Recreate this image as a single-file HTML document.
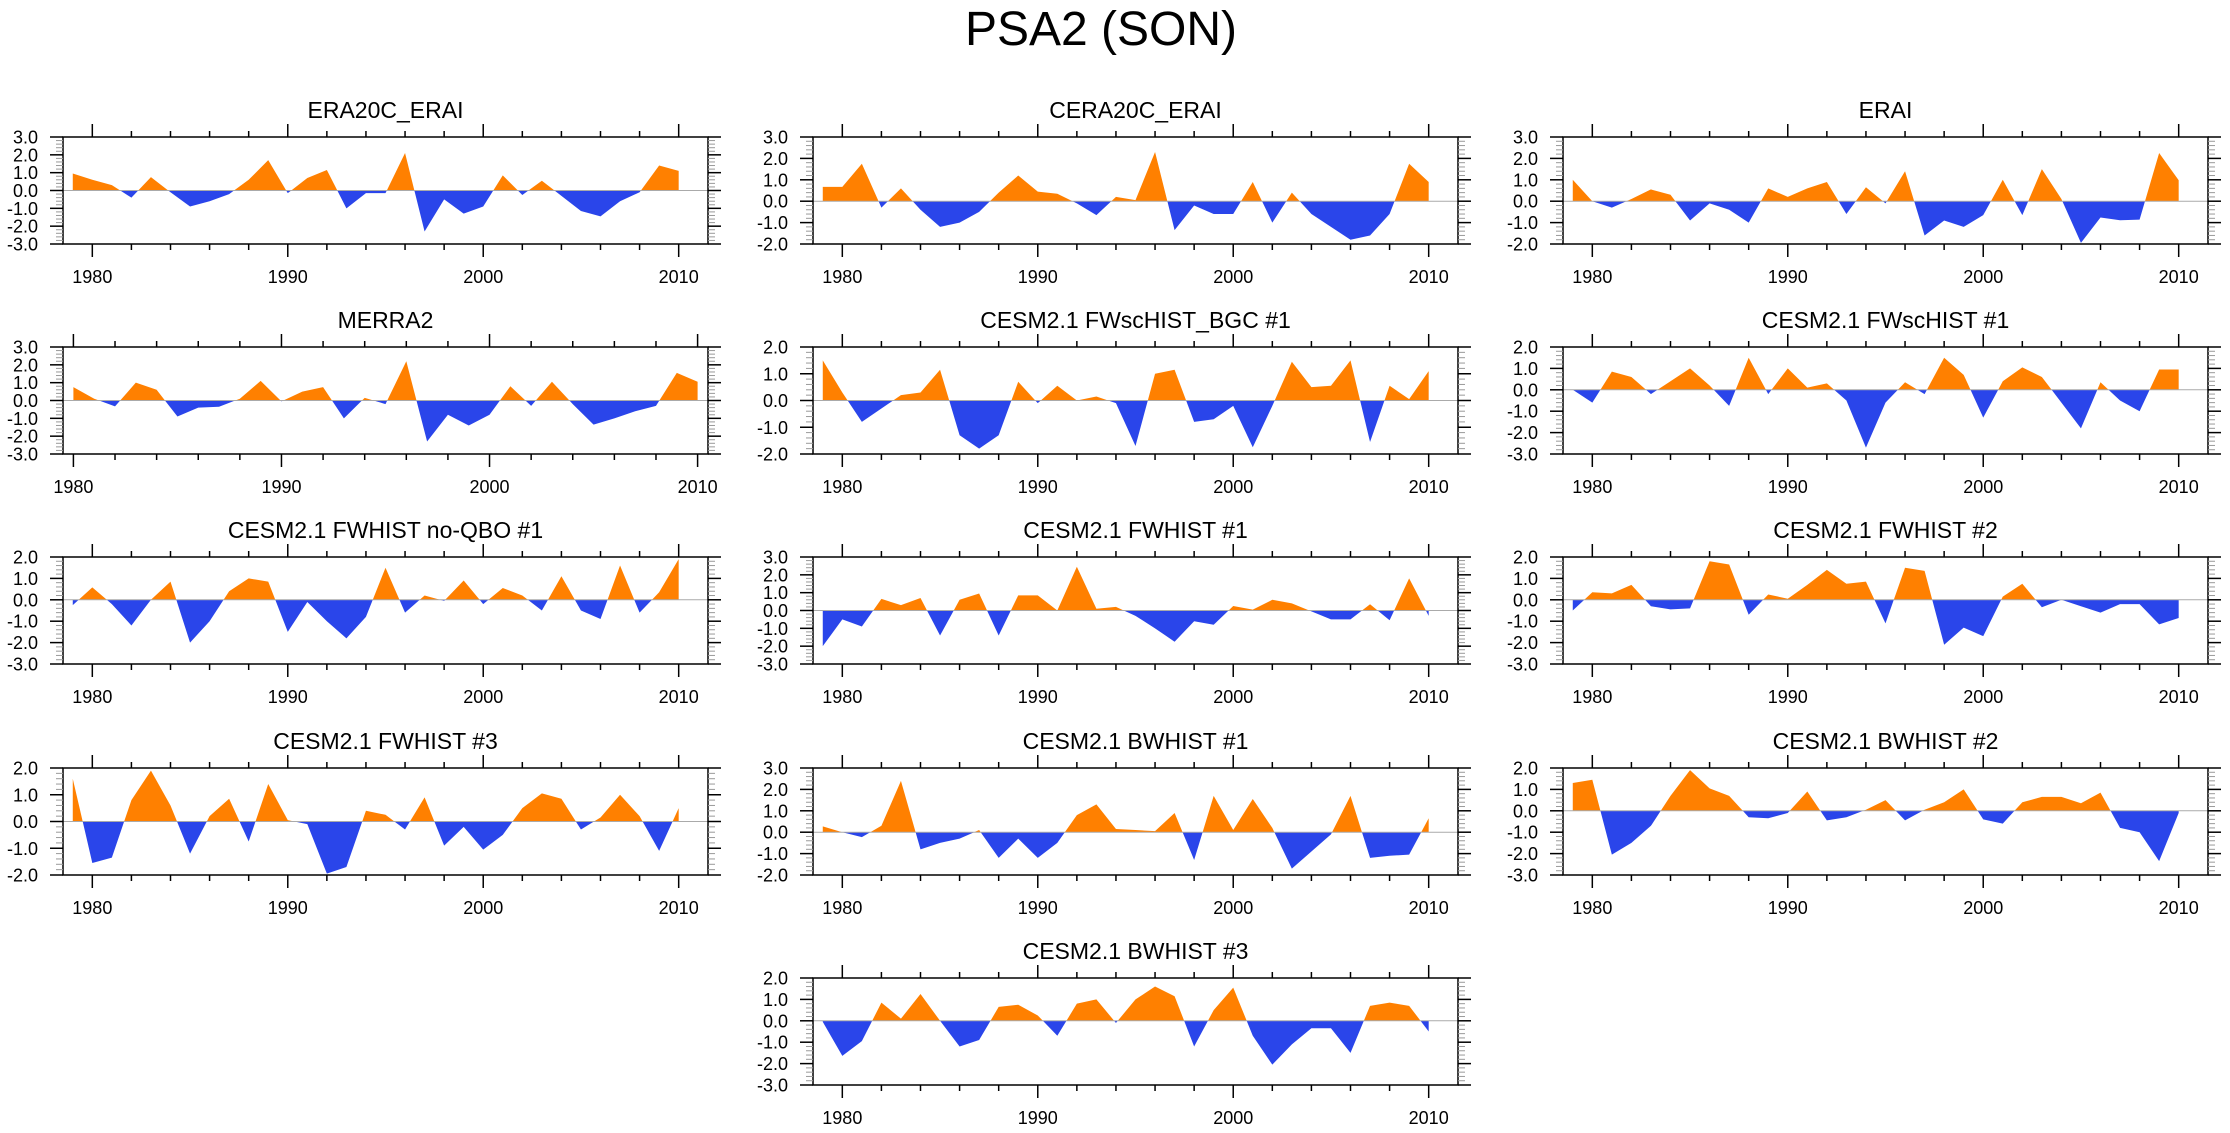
<!DOCTYPE html>
<html><head><meta charset="utf-8"><style>
html,body{margin:0;padding:0;background:#fff;}
svg{display:block;font-family:"Liberation Sans",Arial,sans-serif;}
</style></head><body>
<svg id="fig" width="2230" height="1133" viewBox="0 0 2230 1133" xmlns="http://www.w3.org/2000/svg">
<text x="1101" y="45" font-size="48" text-anchor="middle">PSA2 (SON)</text>
</svg>
<script>
const titles = ["ERA20C_ERAI","CERA20C_ERAI","ERAI","MERRA2","CESM2.1 FWscHIST_BGC #1","CESM2.1 FWscHIST #1","CESM2.1 FWHIST no-QBO #1","CESM2.1 FWHIST #1","CESM2.1 FWHIST #2","CESM2.1 FWHIST #3","CESM2.1 BWHIST #1","CESM2.1 BWHIST #2","CESM2.1 BWHIST #3"];
const startYears = [1979,1979,1979,1980,1979,1979,1979,1979,1979,1979,1979,1979,1979];
const yMins = [-3,-2,-2,-3,-2,-3,-3,-3,-3,-2,-2,-3,-3];
const yMaxs = [3,3,3,3,2,2,2,3,2,2,3,2,2];
const xTickYears = [1980,1990,2000,2010];
const s0 = [0.95,0.6,0.3,-0.4,0.75,-0.1,-0.9,-0.6,-0.2,0.6,1.7,-0.15,0.7,1.15,-1.0,-0.15,-0.15,2.1,-2.3,-0.5,-1.3,-0.9,0.85,-0.25,0.55,-0.3,-1.15,-1.45,-0.6,-0.1,1.4,1.1];
const s1 = [0.67,0.67,1.75,-0.3,0.6,-0.4,-1.2,-1.0,-0.5,0.4,1.2,0.45,0.35,-0.1,-0.65,0.2,0.05,2.3,-1.35,-0.2,-0.6,-0.6,0.9,-1.0,0.4,-0.6,-1.2,-1.8,-1.6,-0.6,1.75,0.9];
const s2 = [1.0,0.0,-0.3,0.1,0.55,0.3,-0.9,-0.1,-0.4,-1.0,0.6,0.2,0.6,0.9,-0.6,0.65,-0.1,1.4,-1.6,-0.9,-1.2,-0.65,1.0,-0.65,1.5,0.1,-1.95,-0.76,-0.89,-0.86,2.25,0.98];
const s3 = [0.75,0.1,-0.33,1.0,0.6,-0.9,-0.4,-0.35,0.1,1.1,-0.05,0.5,0.75,-1.0,0.15,-0.2,2.2,-2.3,-0.8,-1.4,-0.8,0.8,-0.3,1.05,-0.2,-1.35,-1.0,-0.6,-0.3,1.55,1.05];
const s4 = [1.5,0.3,-0.8,-0.3,0.2,0.3,1.15,-1.3,-1.8,-1.3,0.7,-0.1,0.55,0.0,0.15,-0.1,-1.7,1.0,1.15,-0.8,-0.7,-0.2,-1.75,-0.2,1.45,0.5,0.55,1.5,-1.55,0.55,0.05,1.1];
const s5 = [0.0,-0.6,0.85,0.6,-0.2,0.4,1.0,0.2,-0.75,1.5,-0.2,1.0,0.1,0.3,-0.5,-2.7,-0.6,0.35,-0.2,1.5,0.7,-1.3,0.4,1.05,0.6,-0.6,-1.8,0.35,-0.5,-1.0,0.95,0.95];
const s6 = [-0.25,0.58,-0.2,-1.2,0.0,0.85,-2.0,-1.0,0.4,1.0,0.85,-1.5,-0.1,-1.0,-1.8,-0.8,1.5,-0.6,0.2,-0.05,0.9,-0.2,0.55,0.2,-0.5,1.1,-0.5,-0.9,1.6,-0.6,0.35,1.9];
const s7 = [-2.0,-0.5,-0.9,0.65,0.3,0.7,-1.4,0.6,0.95,-1.4,0.85,0.85,0.0,2.45,0.1,0.2,-0.3,-1.0,-1.75,-0.6,-0.8,0.25,0.05,0.6,0.4,-0.05,-0.5,-0.5,0.35,-0.55,1.8,-0.3];
const s8 = [-0.5,0.35,0.3,0.7,-0.3,-0.45,-0.4,1.8,1.65,-0.7,0.25,0.05,0.7,1.4,0.75,0.85,-1.1,1.5,1.35,-2.1,-1.3,-1.7,0.15,0.75,-0.35,0.0,-0.3,-0.6,-0.2,-0.2,-1.15,-0.85];
const s9 = [1.6,-1.55,-1.35,0.8,1.9,0.6,-1.2,0.2,0.85,-0.75,1.4,0.05,-0.1,-1.95,-1.7,0.4,0.25,-0.3,0.9,-0.9,-0.2,-1.05,-0.5,0.5,1.05,0.85,-0.3,0.15,1.0,0.2,-1.1,0.5];
const s10 = [0.27,0.0,-0.23,0.3,2.4,-0.8,-0.5,-0.3,0.1,-1.2,-0.3,-1.2,-0.5,0.8,1.3,0.15,0.1,0.05,0.9,-1.3,1.7,0.1,1.55,0.2,-1.7,-0.9,-0.1,1.7,-1.2,-1.1,-1.05,0.65];
const s11 = [1.3,1.45,-2.05,-1.5,-0.7,0.7,1.9,1.05,0.7,-0.3,-0.35,-0.1,0.9,-0.45,-0.3,0.05,0.5,-0.45,0.05,0.4,1.0,-0.4,-0.6,0.4,0.65,0.65,0.35,0.85,-0.8,-1.0,-2.35,-0.1];
const s12 = [-0.05,-1.64,-0.95,0.85,0.1,1.25,0.0,-1.2,-0.9,0.65,0.75,0.25,-0.7,0.8,1.0,-0.1,1.0,1.6,1.15,-1.2,0.5,1.55,-0.7,-2.05,-1.1,-0.35,-0.35,-1.5,0.7,0.85,0.7,-0.5];
const series = [s0,s1,s2,s3,s4,s5,s6,s7,s8,s9,s10,s11,s12];

const NS = "http://www.w3.org/2000/svg";
const svg = document.getElementById('fig');
const colLeft = [63,813,1563];
const rowTop = [137,347,557,768,978];
const FW = 645, FH = 107;
const FS = 18;
function mk(tag, attrs, parent){
  const e = document.createElementNS(NS, tag);
  for (const k in attrs) e.setAttribute(k, attrs[k]);
  parent.appendChild(e); return e;
}
series.forEach((vals, i) => {
  const col = i < 12 ? i % 3 : 1;
  const row = Math.floor(i / 3);
  const L = colLeft[col], T = rowTop[row], R = L + FW, B = T + FH;
  const y0 = startYears[i];
  const xMin = y0 - 0.5;
  const xMax = (i === 3) ? 2010.5 : 2011.5;
  const lo = yMins[i], hi = yMaxs[i];
  const xs = v => L + (v - xMin) / (xMax - xMin) * FW;
  const ys = v => B - (v - lo) / (hi - lo) * FH;
  const g = mk('g', {}, svg);
  
  
  const t = mk('text', {x: L + FW / 2, y: T - 19, 'font-size': 23, 'text-anchor': 'middle'}, g);
  
  
  t.textContent = titles[i];
  const zy = ys(0);
  let pts = xs(y0).toFixed(2) + ',' + zy.toFixed(2) + ' ';
  vals.forEach((v, k) => { pts += xs(y0 + k).toFixed(2) + ',' + ys(v).toFixed(2) + ' '; });
  pts += xs(y0 + vals.length - 1).toFixed(2) + ',' + zy.toFixed(2);
  const cidA = 'ca' + i, cidB = 'cb' + i;
  const defs = mk('defs', {}, g);
  const c1 = mk('clipPath', {id: cidA}, defs); mk('rect', {x: L, y: T, width: FW, height: zy - T}, c1);
  const c2 = mk('clipPath', {id: cidB}, defs); mk('rect', {x: L, y: zy, width: FW, height: B - zy}, c2);
  const pa = mk('polygon', {points: pts, fill: '#ff8000', 'clip-path': 'url(#' + cidA + ')'}, g);
  
  
  const pb = mk('polygon', {points: pts, fill: '#2a45ea', 'clip-path': 'url(#' + cidB + ')'}, g);
  
  
  mk('line', {x1: L, x2: R, y1: zy, y2: zy, stroke: '#aaaaaa', 'stroke-width': 1}, g);
  const fr = mk('rect', {x: L, y: T, width: FW, height: FH, fill: 'none', stroke: '#000', 'stroke-width': 1.5}, g);
  
  
  const nMinor = Math.round((hi - lo) / 0.2);
  for (let k = 0; k <= nMinor; k++) {
    const v = lo + k * 0.2; const yy = ys(v);
    const major = k % 5 === 0;
    const len = major ? 13 : 7;
    const col2 = major ? '#000' : '#999';
    mk('line', {x1: L - len, x2: L, y1: yy, y2: yy, stroke: col2, 'stroke-width': major ? 1.5 : 1}, g);
    mk('line', {x1: R, x2: R + len, y1: yy, y2: yy, stroke: col2, 'stroke-width': major ? 1.5 : 1}, g);
    if (major) {
      const tl = mk('text', {x: L - 25, y: yy + 6.5, 'font-size': FS, 'text-anchor': 'end'}, g);
      
      
      tl.textContent = v.toFixed(1);
    }
  }
  for (let yr = 1980; yr <= 2010; yr += 2) {
    const xx = xs(yr);
    if (xx > R || xx < L) continue;
    const major = yr % 10 === 0;
    const len = major ? 13 : 6;
    mk('line', {x1: xx, x2: xx, y1: T - len, y2: T, stroke: '#000', 'stroke-width': 1.5}, g);
    mk('line', {x1: xx, x2: xx, y1: B, y2: B + len, stroke: '#000', 'stroke-width': 1.5}, g);
  }
  xTickYears.forEach(yr => {
    const xl = mk('text', {x: xs(yr), y: B + 39, 'font-size': FS, 'text-anchor': 'middle'}, g);
    
    
    xl.textContent = yr;
  });
});
</script>
</body></html>
